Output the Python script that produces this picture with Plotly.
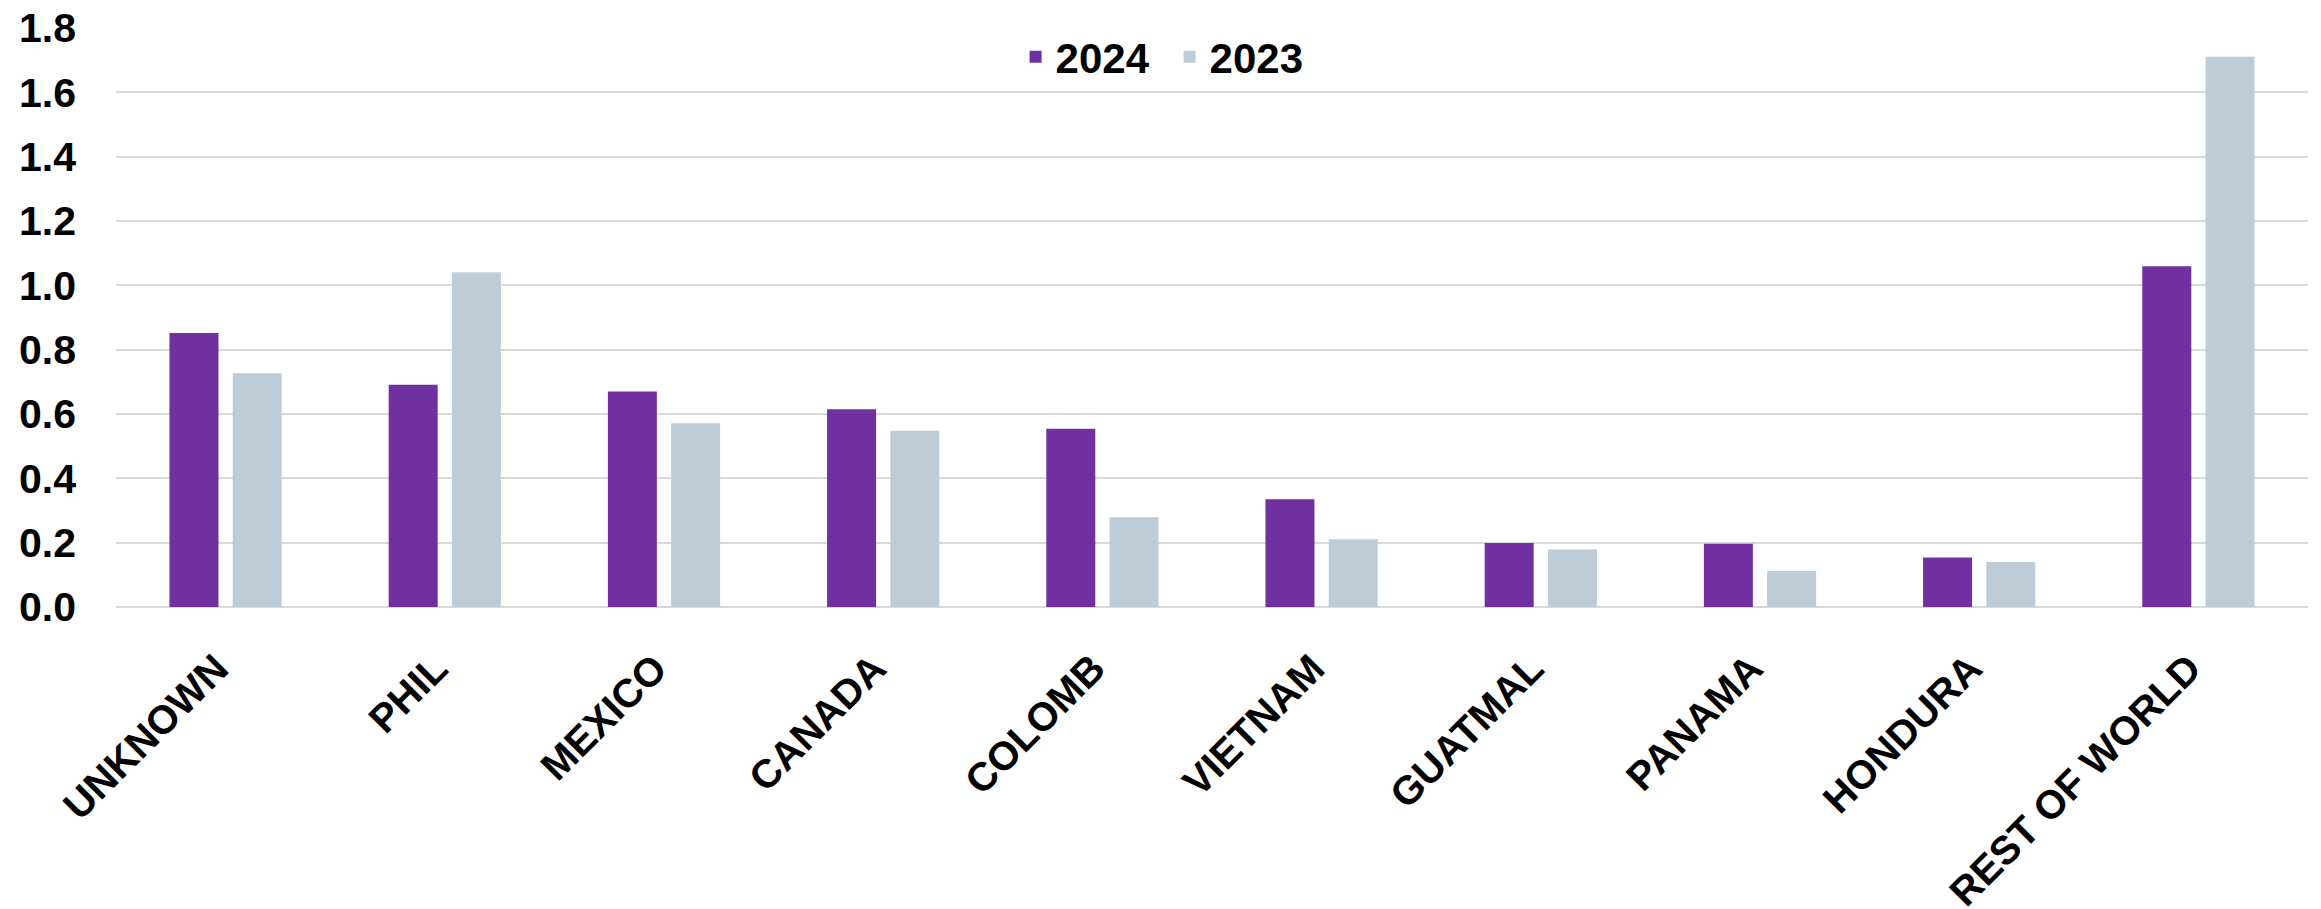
import plotly.graph_objects as go

categories = ["UNKNOWN", "PHIL", "MEXICO", "CANADA", "COLOMB", "VIETNAM",
              "GUATMAL", "PANAMA", "HONDURA", "REST OF WORLD"]
values_2024 = [0.852, 0.691, 0.670, 0.615, 0.554, 0.335, 0.199, 0.197, 0.154, 1.059]
values_2023 = [0.727, 1.041, 0.571, 0.548, 0.279, 0.211, 0.179, 0.112, 0.140, 1.711]
y_ticks = [0.0, 0.2, 0.4, 0.6, 0.8, 1.0, 1.2, 1.4, 1.6, 1.8]

PURPLE = "#7030A0"
GREYBLUE = "#BDCCD6"
FONT = "Liberation Sans, Arial, sans-serif"

fig = go.Figure()
fig.add_trace(go.Bar(
    x=categories, y=values_2024, name="2024",
    marker=dict(color=PURPLE, line=dict(width=0)),
    width=0.2235, offset=-0.256,
))
fig.add_trace(go.Bar(
    x=categories, y=values_2023, name="2023",
    marker=dict(color=GREYBLUE, line=dict(width=0)),
    width=0.2235, offset=0.0325,
))

fig.update_layout(
    width=2321, height=909,
    margin=dict(l=108, r=21, t=20, b=310, autoexpand=False),
    paper_bgcolor="white", plot_bgcolor="white",
    barmode="group",
    font=dict(family=FONT, color="black", weight="bold"),
    showlegend=True,
    legend=dict(
        orientation="h", x=0.4104, xanchor="left", y=0.95, yanchor="middle",
        font=dict(size=42, family=FONT, weight="bold", color="black"),
        bgcolor="rgba(255,255,255,0)", borderwidth=0,
        traceorder="normal", entrywidth=109, entrywidthmode="pixels",
    ),
    xaxis=dict(
        type="category", tickangle=-45,
        tickfont=dict(size=40, family=FONT, weight="bold", color="black"),
        showgrid=False, showline=False, zeroline=False, ticks="",
        ticklabelstandoff=29, ticklabelshift=-9,
        ticklabeloverflow="allow", automargin=False,
    ),
    yaxis=dict(
        range=[0, 1.8], tickvals=y_ticks, tickformat=".1f",
        tickfont=dict(size=41, family=FONT, weight="bold", color="black"),
        showgrid=True, gridcolor="#D9D9D9", gridwidth=2,
        zeroline=True, zerolinecolor="#D9D9D9", zerolinewidth=2,
        showline=False, ticks="", ticklabelstandoff=39,
        ticklabeloverflow="allow", automargin=False,
    ),
)

fig.write_html("out.html")
